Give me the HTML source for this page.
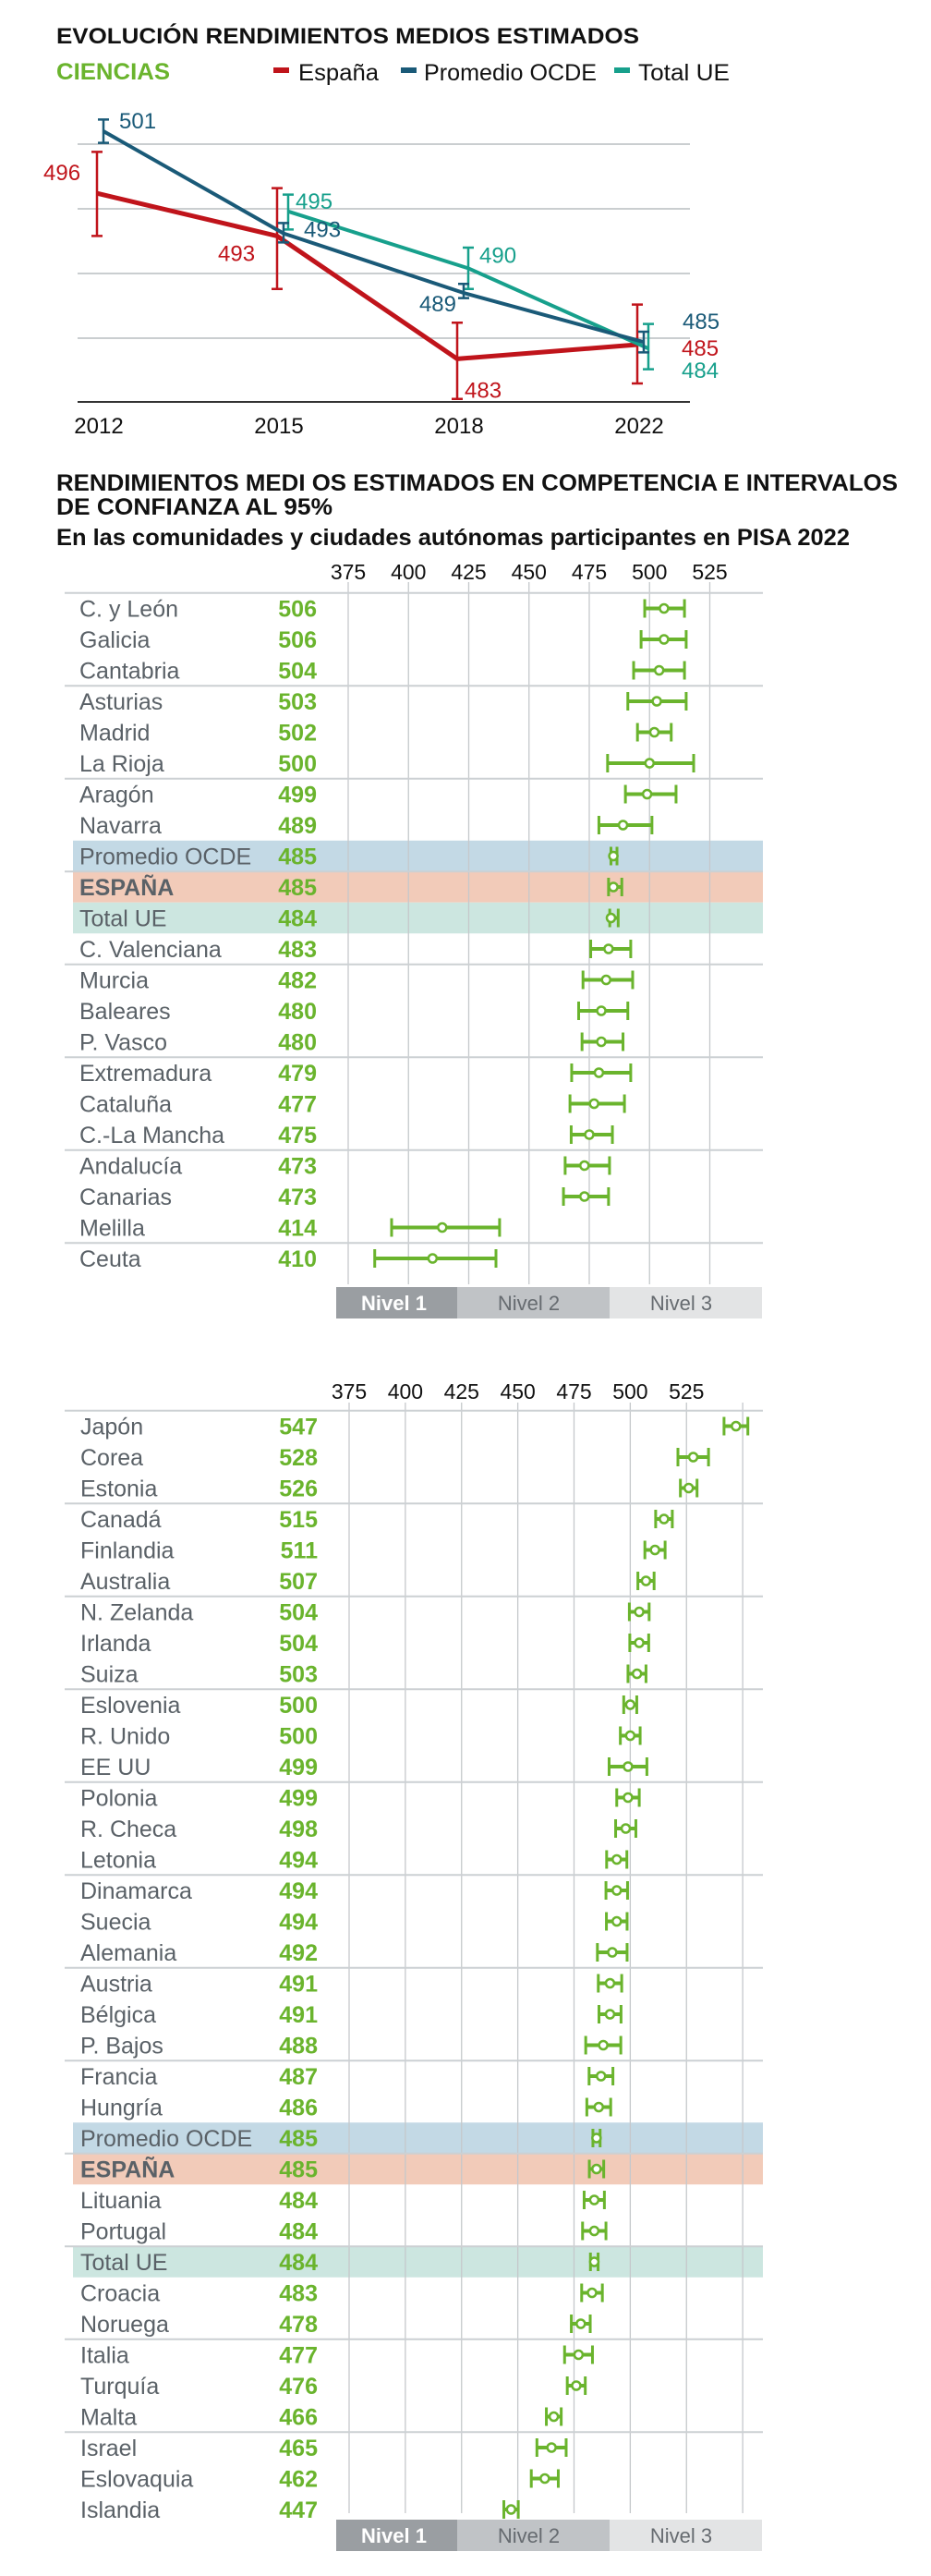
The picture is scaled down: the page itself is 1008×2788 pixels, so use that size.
<!DOCTYPE html>
<html><head><meta charset="utf-8"><style>
html,body{margin:0;padding:0;background:#fff;}
svg{display:block;font-family:"Liberation Sans",sans-serif;}
</style></head><body>
<svg id="s" width="1008" height="2788" viewBox="0 0 1008 2788" xmlns="http://www.w3.org/2000/svg">
<text x="61" y="47" font-size="24" font-weight="bold" fill="#111" textLength="631" lengthAdjust="spacingAndGlyphs">EVOLUCIÓN RENDIMIENTOS MEDIOS ESTIMADOS</text>
<text x="61" y="86" font-size="25" font-weight="bold" fill="#6ab42d" textLength="123" lengthAdjust="spacingAndGlyphs">CIENCIAS</text>
<g>
<rect x="296" y="73" width="17" height="6" fill="#c0141b"/>
<text x="323" y="87" font-size="25" fill="#111" textLength="87" lengthAdjust="spacingAndGlyphs">España</text>
<rect x="434" y="73" width="17" height="6" fill="#1a5a78"/>
<text x="459" y="87" font-size="25" fill="#111" textLength="187" lengthAdjust="spacingAndGlyphs">Promedio OCDE</text>
<rect x="665" y="73" width="17" height="6" fill="#17a08c"/>
<text x="691" y="87" font-size="25" fill="#111" textLength="99" lengthAdjust="spacingAndGlyphs">Total UE</text>
</g>
<g id="line"></g>
<text x="61" y="531" font-size="25" font-weight="bold" fill="#111" textLength="911" lengthAdjust="spacingAndGlyphs">RENDIMIENTOS MEDI OS ESTIMADOS EN COMPETENCIA E INTERVALOS</text>
<text x="61" y="557" font-size="25" font-weight="bold" fill="#111" textLength="299" lengthAdjust="spacingAndGlyphs">DE CONFIANZA AL 95%</text>
<text x="61" y="590" font-size="25" font-weight="bold" fill="#111" textLength="859" lengthAdjust="spacingAndGlyphs">En las comunidades y ciudades autónomas participantes en PISA 2022</text>
<g id="c1"></g>
<g id="c2"></g>
</svg>
<script>
// ---- Line chart data ----
const years = ["2012","2015","2018","2022"];
const espana = [496.2, 492.9, 483.4, 484.5];
const espanaLo = [492.9, 488.8, 480.3, 481.5];
const espanaHi = [499.4, 496.6, 486.2, 487.6];
const espanaLabels = ["496","493","483","485"];
const ocde = [501, 493.1, 488.5, 484.7];
const ocdeLo = [500.1, 492.4, 488.1, 483.9];
const ocdeHi = [501.9, 493.9, 489.2, 485.5];
const ocdeLabels = ["501","493","489","485"];
const ue = [null, 494.8, 490.4, 484.2];
const ueLo = [null, 493.4, 488.8, 482.6];
const ueHi = [null, 496.1, 492.0, 486.1];
const ueLabels = ["","495","490","484"];
const lineGrid = [500, 495, 490, 485];

// ---- Regions chart data ----
const regions = ["C. y León","Galicia","Cantabria","Asturias","Madrid","La Rioja","Aragón","Navarra","Promedio OCDE","ESPAÑA","Total UE","C. Valenciana","Murcia","Baleares","P. Vasco","Extremadura","Cataluña","C.-La Mancha","Andalucía","Canarias","Melilla","Ceuta"];
const regionVals = [506,506,504,503,502,500,499,489,485,485,484,483,482,480,480,479,477,475,473,473,414,410];
const regionLo = [498,496.5,493.4,491,495,482.6,490,479,484,483,483.5,475.6,472.4,470.6,472,467.7,467,467.5,465,464.3,393,386];
const regionHi = [514.5,515.2,514.5,515.2,509,518.3,511,501,486.5,488.5,487,492.2,493,491,489,492.2,489.6,484.6,483.4,483,437.8,436.3];

// ---- Countries chart data ----
const countries = ["Japón","Corea","Estonia","Canadá","Finlandia","Australia","N. Zelanda","Irlanda","Suiza","Eslovenia","R. Unido","EE UU","Polonia","R. Checa","Letonia","Dinamarca","Suecia","Alemania","Austria","Bélgica","P. Bajos","Francia","Hungría","Promedio OCDE","ESPAÑA","Lituania","Portugal","Total UE","Croacia","Noruega","Italia","Turquía","Malta","Israel","Eslovaquia","Islandia"];
const countryVals = [547,528,526,515,511,507,504,504,503,500,500,499,499,498,494,494,494,492,491,491,488,487,486,485,485,484,484,484,483,478,477,476,466,465,462,447];
const countryLo = [541.7,521.2,522.3,511.3,506.5,503.4,499.6,499.8,499,497.1,495.6,490.6,494,493.5,489.5,489.2,489.4,485.4,485.8,486.1,480.2,481.7,480.7,483.4,481.8,479.5,478.8,482.3,478.4,473.8,470.8,472,462.7,458.5,456,443.8];
const countryHi = [552.3,534.8,529.7,518.7,515.5,510.6,508.4,508.2,507,502.9,504.4,507.4,504,502.5,498.5,498.8,498.6,498.6,496.2,495.9,495.8,492.3,491.3,486.6,488.2,488.5,489.2,485.7,487.6,482.2,483.2,480,469.3,471.5,468,450.2];

const ticks = [375,400,425,450,475,500,525];
const ticks2Grid = [375,400,425,450,475,500,525,550];
const nivelNames = ["Nivel 1","Nivel 2","Nivel 3"];

const NS = "http://www.w3.org/2000/svg";
function mk(parent, tag, attrs, text){
  const e = document.createElementNS(NS, tag);
  for (const k in attrs) e.setAttribute(k, attrs[k]);
  if (text !== undefined) e.textContent = text;
  parent.appendChild(e);
  return e;
}

// ---------- Line chart ----------
(function(){
  const g = document.getElementById('line');
  const ly = v => 366 - (v - 485) * 14;
  const lx = i => 107 + i * 195;
  lineGrid.forEach(v => {
    const l = mk(g, 'line', {x1:84, x2:747, y1:ly(v), y2:ly(v), stroke:'#b9bdc1', 'stroke-width':1.5});
    
    
  });
  const base = mk(g, 'line', {x1:84, x2:747, y1:435, y2:435, stroke:'#333', 'stroke-width':2});
  
  
  years.forEach((y, i) => {
    const t = mk(g, 'text', {x:lx(i), y:469, 'font-size':24, 'text-anchor':'middle', fill:'#111'}, y);
    
    
  });
  const series = [
    {name:'espana', vals:espana, lo:espanaLo, hi:espanaHi, labels:espanaLabels, color:'#c0141b', w:5, off:-2,
     lab:[[-58,-14,'start'],[-64,27,'start'],[8,42,'start'],[48,12,'start']]},
    {name:'ue', vals:ue, lo:ueLo, hi:ueHi, labels:ueLabels, color:'#17a08c', w:4, off:10,
     lab:[[0,0,'start'],[8,-3,'start'],[12,-6,'start'],[36,32,'start']]},
    {name:'ocde', vals:ocde, lo:ocdeLo, hi:ocdeHi, labels:ocdeLabels, color:'#1a5a78', w:4, off:5,
     lab:[[17,-3,'start'],[22,4,'start'],[-8,20,'end'],[42,-14,'start']]}
  ];
  series.forEach(s => {
    const pts = [];
    s.vals.forEach((v, i) => { if (v !== null) pts.push((lx(i) + s.off) + ',' + ly(v)); });
    const p = mk(g, 'polyline', {points:pts.join(' '), fill:'none', stroke:s.color, 'stroke-width':s.w, 'stroke-linejoin':'round'});
    
    
    s.vals.forEach((v, i) => {
      if (v === null) return;
      const x = lx(i) + s.off;
      const eb = mk(g, 'path', {d:`M${x-6},${ly(s.hi[i])}H${x+6}M${x},${ly(s.hi[i])}V${ly(s.lo[i])}M${x-6},${ly(s.lo[i])}H${x+6}`, stroke:s.color, 'stroke-width':2.5, fill:'none'});
      
      
    });
  });
  series.forEach(s => {
    s.vals.forEach((v, i) => {
      if (v === null) return;
      const x = lx(i) + s.off;
      const o = s.lab[i];
      const t = mk(g, 'text', {x:x + o[0], y:ly(v) + o[1], 'font-size':24, fill:s.color, 'text-anchor':o[2]}, s.labels[i]);
      
      
    });
  });
})();

// ---------- Dot / interval charts ----------
function dotChart(gid, names, vals, lo, hi, cfg){
  const g = document.getElementById(gid);
  const x = v => cfg.x0 + (v - 375) * cfg.k;
  const rc = i => cfg.c0 + i * 33.5;
  const hl = {"Promedio OCDE":'#c3d9e5', "ESPAÑA":'#f2cbb9', "Total UE":'#cce6e0'};
  names.forEach((n, i) => {
    if (hl[n]) {
      const r = mk(g, 'rect', {x:79, y:rc(i) - 16.75, width:747, height:33.5, fill:hl[n]});
      
      
    }
  });
  cfg.grid.forEach(v => {
    const l = mk(g, 'line', {x1:x(v), x2:x(v), y1:cfg.gTop, y2:cfg.gBot, stroke:'#c5c8cb', 'stroke-width':1.3});
    
    
  });
  ticks.forEach(v => {
    const t = mk(g, 'text', {x:x(v), y:cfg.tickY, 'font-size':23, 'text-anchor':'middle', fill:'#111'}, String(v));
    
    
  });
  const top = rc(0) - 16.75;
  const tl = mk(g, 'line', {x1:70, x2:826, y1:top, y2:top, stroke:'#ccd0d3', 'stroke-width':2});
  
  
  names.forEach((n, i) => {
    if (i % 3 === 2 && i < names.length - 1) {
      const yy = rc(i) + 16.75;
      const l = mk(g, 'line', {x1:70, x2:826, y1:yy, y2:yy, stroke:'#ccd0d3', 'stroke-width':2});
      
      
    }
  });
  names.forEach((n, i) => {
    const cy = rc(i);
    const bold = n === 'ESPAÑA';
    const t = mk(g, 'text', {x:cfg.lx, y:cy + 9, 'font-size':25, fill:'#5a6167', 'font-weight':bold ? 'bold' : 'normal'}, n);
    
    
    const v = mk(g, 'text', {x:cfg.vx, y:cy + 9, 'font-size':25, 'font-weight':'bold', fill:'#6ab42d', 'text-anchor':'end'}, String(vals[i]));
    
    
    const a = x(lo[i]), b = x(hi[i]), c = x(vals[i]);
    const eb = mk(g, 'path', {d:`M${a},${cy}H${b}`, stroke:'#6ab42d', 'stroke-width':4, fill:'none'});
    
    
    const caps = mk(g, 'path', {d:`M${a},${cy-10}V${cy+10}M${b},${cy-10}V${cy+10}`, stroke:'#6ab42d', 'stroke-width':3, fill:'none'});
    
    
    const dot = mk(g, 'circle', {cx:c, cy:cy, r:4.5, fill:'#fff', stroke:'#6ab42d', 'stroke-width':2.5});
    
    
  });
  const nx = [364, 495, 660, 825];
  const nf = ['#9a9ea2', '#c0c3c6', '#e3e4e5'];
  const tf = ['#fff', '#666b70', '#666b70'];
  nivelNames.forEach((n, i) => {
    const r = mk(g, 'rect', {x:nx[i], y:cfg.nY, width:nx[i+1] - nx[i], height:34, fill:nf[i]});
    
    
    const t = mk(g, 'text', {x:(nx[i] + nx[i+1]) / 2 - (i === 0 ? 3 : 5), y:cfg.nY + 25, 'font-size':22, 'text-anchor':'middle', fill:tf[i], 'font-weight':i === 0 ? 'bold' : 'normal'}, n);
    
    
  });
}
dotChart('c1', regions, regionVals, regionLo, regionHi,
  {x0:377, k:2.61, c0:658.5, tickY:627, gTop:630, gBot:1390, grid:ticks, lx:86, vx:343, nY:1393});
dotChart('c2', countries, countryVals, countryLo, countryHi,
  {x0:378, k:2.435, c0:1543.5, tickY:1514, gTop:1518, gBot:2720, grid:ticks2Grid, lx:87, vx:344, nY:2727});
</script>
</body></html>
